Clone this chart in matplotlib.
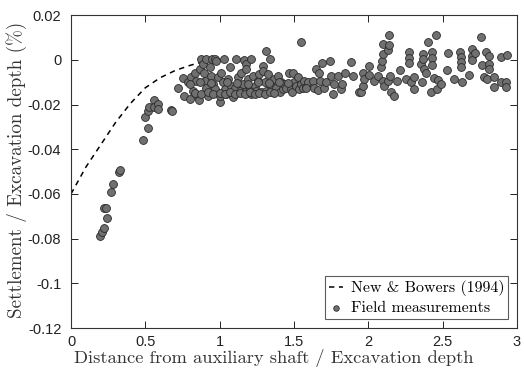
import matplotlib
matplotlib.use("Agg")
import matplotlib.pyplot as plt
from matplotlib.ticker import FuncFormatter

plt.rcParams['font.family'] = ['Liberation Sans', 'DejaVu Sans']

# New & Bowers (1994) curve
curve_x = [0.0, 0.1, 0.2, 0.3, 0.4, 0.5, 0.6, 0.7, 0.8, 0.87]
curve_y = [-0.060, -0.048, -0.038, -0.028, -0.0195, -0.0125, -0.008, -0.0048, -0.0025, -0.0012]

# field measurements
meas_x = [
    0.195, 0.206, 0.224, 0.239, 0.221, 0.233, 0.266, 0.284, 0.324, 0.332,
    0.485, 0.519, 0.497, 0.519, 0.526, 0.559, 0.559, 0.586, 0.586, 0.671, 0.678,
    0.72, 0.754, 0.758, 0.787, 0.799, 0.81, 0.821, 0.832, 0.843, 0.854,
    0.861, 0.866, 0.877, 0.888, 0.893, 0.899, 0.906, 0.911, 0.921, 0.933,
    0.944, 0.951, 0.955, 0.966, 0.966, 0.978, 0.989, 1.0, 1.0, 1.011,
    1.022, 1.027, 1.034, 1.045, 1.056, 1.067, 1.079, 1.089, 1.1, 1.112,
    1.123, 1.134, 1.146, 1.156, 1.163, 1.168, 1.174, 1.179, 1.19, 1.201,
    1.213, 1.213, 1.224, 1.235, 1.246, 1.257, 1.268, 1.28, 1.291, 1.295,
    1.302, 1.313, 1.313, 1.324, 1.336, 1.347, 1.358, 1.369, 1.38, 1.391,
    1.403, 1.414, 1.425, 1.436, 1.447, 1.465, 1.481, 1.488, 1.492, 1.503,
    1.515, 1.526, 1.537, 1.544, 1.548, 1.559, 1.57, 1.582, 1.593,
    0.832, 0.877, 0.921, 0.955, 1.0, 1.034, 1.067, 1.1, 1.134, 1.168,
    1.201, 1.235, 1.268, 1.302, 1.336, 1.369, 0.80, 0.87, 0.94, 1.05,
    1.12, 1.19, 1.26, 1.33, 1.40, 1.46,
    1.582, 1.626, 1.638, 1.649, 1.66, 1.671, 1.676, 1.689, 1.705, 1.716,
    1.743, 1.75, 1.761, 1.772, 1.794, 1.817, 1.823, 1.846, 1.884, 1.895,
    1.935, 1.951, 1.962, 1.966, 1.973, 2.002, 2.007, 2.04, 2.062, 2.085,
    2.092, 2.096, 2.096, 2.096, 2.107, 2.13, 2.136, 2.141, 2.141, 2.146,
    2.152, 2.174, 2.19, 2.213, 2.253, 2.275, 2.275, 2.275, 2.287, 2.309,
    2.309, 2.354, 2.36, 2.369, 2.369, 2.376, 2.387, 2.405, 2.421, 2.432,
    2.432, 2.432, 2.443, 2.454, 2.459, 2.472, 2.488, 2.532, 2.539, 2.577,
    2.615, 2.622, 2.622, 2.622, 2.633, 2.678, 2.696, 2.7, 2.7, 2.718,
    2.756, 2.767, 2.779, 2.79, 2.8, 2.812, 2.812, 2.812, 2.846, 2.846,
    2.89, 2.89, 2.924, 2.924, 2.935,
]
meas_y = [
    -0.079, -0.077, -0.0753, -0.0706, -0.0664, -0.0661, -0.0592, -0.0556, -0.0501, -0.0495,
    -0.0359, -0.0303, -0.0258, -0.0231, -0.0213, -0.018, -0.0209, -0.0198, -0.0221, -0.0224, -0.0228,
    -0.0127, -0.0082, -0.0164, -0.0101, -0.0176, -0.0076, -0.0139, -0.0057, -0.0094, -0.0161,
    -0.018, -0.0042, 0.0003, -0.0019, -0.0057, -0.0094, 0.0003, -0.0124, -0.0161, -0.0034,
    -0.0072, 0.0003, -0.0109, 0.0003, -0.0131, -0.0004, -0.0079, -0.019, -0.0161, -0.0061,
    -0.0101, 0.0003, -0.0131, -0.0153, -0.0086, -0.0034, -0.0116, -0.0168, -0.0124, 0.0003,
    -0.0079, -0.0139, -0.0057, -0.0109, -0.0001, -0.0146, -0.0019, -0.0042, -0.0086, -0.0124,
    0.0003, -0.0153, -0.0072, -0.0116, -0.0139, -0.0094, -0.0064, -0.0146, -0.0027, -0.0049,
    -0.0101, 0.004, -0.0139, -0.0064, 0.0003, -0.0116, -0.0146, -0.0086, -0.0124, -0.0072,
    -0.0146, -0.0101, -0.0131, -0.0109, -0.0124, -0.0061, -0.0131, -0.0146, -0.0061, -0.0101,
    -0.0116, -0.0079, -0.0131, 0.0082, -0.0106, -0.0124, -0.0094, -0.0121, -0.0101,
    -0.0148, -0.0155, -0.0145, -0.0152, -0.0147, -0.0155, -0.0145, -0.0152, -0.0148, -0.0155,
    -0.0145, -0.0152, -0.0147, -0.0155, -0.0145, -0.0150, -0.0110, -0.0100, -0.0105, -0.0098,
    -0.0102, -0.0106, -0.0099, -0.0104, -0.0100, -0.0103,
    -0.0124, -0.0094, -0.0127, -0.0042, -0.0136, -0.0057, -0.0094, -0.0016, -0.0127, -0.0101,
    -0.0007, -0.0072, -0.0151, -0.0109, -0.0072, -0.0131, -0.0106, -0.0057, -0.0009, -0.0072,
    -0.0146, -0.0142, -0.0061, -0.0116, -0.0086, -0.0027, -0.0067, -0.0094, -0.0072, -0.0034,
    -0.0004, 0.0028, 0.007, -0.0094, -0.0116, -0.0094, 0.0043, 0.0066, 0.011, -0.0072,
    -0.0146, -0.0161, -0.0094, -0.0046, -0.0086, 0.0037, 0.001, -0.0016, -0.0101, -0.0131,
    -0.0076, -0.0019, -0.0101, 0.0025, 0.0003, -0.0042, -0.0061, 0.0082, -0.0146, 0.0033,
    0.001, -0.0024, -0.0082, 0.011, -0.0131, -0.0091, -0.0106, -0.0046, 0.003, -0.0086,
    0.0033, 0.0013, -0.0009, -0.0031, -0.0098, -0.0067, 0.0048, 0.0018, -0.0001, 0.003,
    0.010, -0.0024, -0.0079, 0.0033, -0.0086, 0.0018, -0.0019, -0.0039, -0.0121, -0.0079,
    0.0013, -0.0098, -0.0098, -0.0121, 0.0021,
]

serif = ['cmr10', 'DejaVu Serif']

fig = plt.figure(figsize=(5.24, 3.69), dpi=100)
ax = fig.add_axes([0.1355, 0.111, 0.851, 0.848])

ax.plot(curve_x, curve_y, color='black', linestyle=(0, (3.5, 3)), linewidth=1.1,
        label='New & Bowers (1994)')
ax.scatter(meas_x, meas_y, s=32, facecolor='#707070', edgecolor='#2a2a2a',
           linewidth=0.6, zorder=3, label='Field measurements')

ax.set_xlim(0, 3)
ax.set_ylim(-0.12, 0.02)
ax.set_xticks([0, 0.5, 1, 1.5, 2, 2.5, 3])
ax.set_yticks([-0.12, -0.1, -0.08, -0.06, -0.04, -0.02, 0, 0.02])
fmt = FuncFormatter(lambda v, p: ('%g' % round(v, 3)))
ax.xaxis.set_major_formatter(fmt)
ax.yaxis.set_major_formatter(fmt)
ax.tick_params(direction='in', length=5, width=0.7, top=True, right=True,
               labelsize=10.5, colors='#222222')
ax.tick_params(axis='y', pad=7)
ax.tick_params(axis='x', pad=5)
for s in ax.spines.values():
    s.set_linewidth(0.8)
    s.set_color('#333333')

ax.set_xlabel('Distance from auxiliary shaft / Excavation depth',
              fontsize=13.3, color='#333333', family=serif)
ax.xaxis.set_label_coords(0.455, -0.068)
ax.set_ylabel('Settlement / Excavation depth (%)',
              fontsize=13.7, color='#333333', family=serif)
ax.yaxis.set_label_coords(-0.099, 0.505)

leg = ax.legend(loc='lower right', prop={'family': serif, 'size': 11.5},
                frameon=True, fancybox=False, markerscale=0.7,
                edgecolor='#333333', handlelength=0.9, handletextpad=0.45,
                borderpad=0.25, labelspacing=0.3, borderaxespad=0.55)
leg.get_frame().set_linewidth(0.8)

fig.savefig('out.png', dpi=100)
